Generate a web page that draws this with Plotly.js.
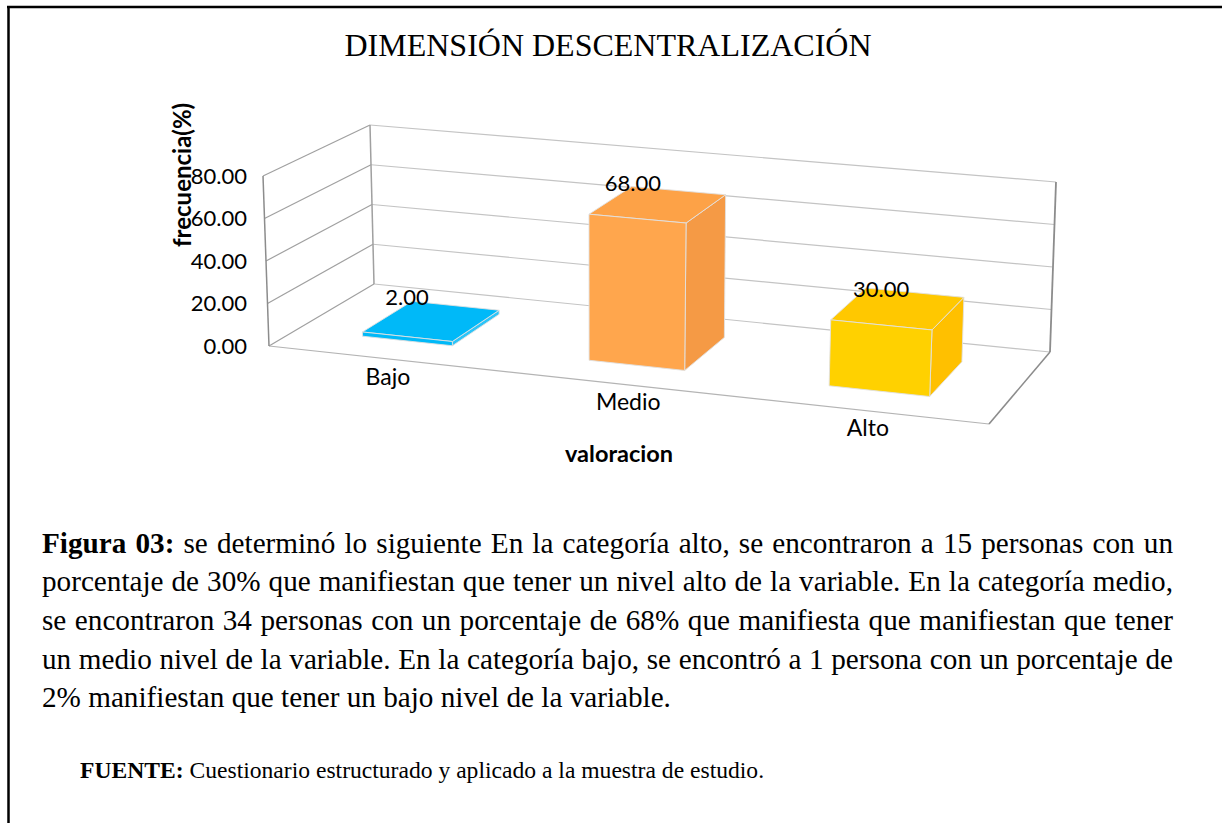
<!DOCTYPE html>
<html><head><meta charset="utf-8">
<script src="https://cdn.plot.ly/plotly-3.0.1.min.js"></script>
<style>html,body{margin:0;padding:0;background:#fff}#c{width:1222px;height:823px}</style></head>
<body><div id="c"></div>
<script>
const categories=['Bajo','Medio','Alto'];
const values=[2,68,30];
const yTicks=[0,20,40,60,80];
const yTickLabels=['0.00','20.00','40.00','60.00','80.00'];
const yMax=80;
const chartTitle='DIMENSIÓN DESCENTRALIZACIÓN';
const xTitle='valoracion';
const yTitle='frecuencia(%)';
const faceColors=[['#00B9F8','#00B9F8','#2CC4F8'],['#FFA64D','#FDA247','#F59A45'],['#FFD100','#FFC800','#FFC000']];
const captionLines=[
 '<b>Figura 03:</b> se determinó lo siguiente En la categoría alto, se encontraron a 15 personas con un',
 'porcentaje de 30% que manifiestan que tener un nivel alto de la variable. En la categoría medio,',
 'se encontraron 34 personas con un porcentaje de 68% que manifiesta que manifiestan que tener',
 'un medio nivel de la variable. En la categoría bajo, se encontró a 1 persona con un porcentaje de',
 '2% manifiestan que tener un bajo nivel de la variable.'];
const source='<b>FUENTE:</b> Cuestionario estructurado y aplicado a la muestra de estudio.';

// view box of the pseudo-3D chart (screen placement of the 8 corners)
const box={A:[269,346],B:[374,284],C:[1050,352],D:[989,424],At:[263,176],Bt:[370,125],Ct:[1056,182],Dt:[997,242]};
const barU=[[.092,.219],[.412,.547],[.751,.893]], barV=[.27,.76];
const mix=(a,b,t)=>[a[0]+(b[0]-a[0])*t,a[1]+(b[1]-a[1])*t];
function P(u,v,w){
  const f=mix(mix(box.A,box.B,v),mix(box.D,box.C,v),u);
  const t=mix(mix(box.At,box.Bt,v),mix(box.Dt,box.Ct,v),u);
  return mix(f,t,w);
}
const traces=[];
function line(pts,color,width){traces.push({type:'scatter',mode:'lines',x:pts.map(p=>p[0]),y:pts.map(p=>p[1]),
  line:{color,width},hoverinfo:'skip',showlegend:false});}
function face(pts,color,edge){traces.push({type:'scatter',mode:'lines',fill:'toself',fillcolor:color,
  x:pts.concat([pts[0]]).map(p=>p[0]),y:pts.concat([pts[0]]).map(p=>p[1]),
  line:{color:edge,width:1},hoverinfo:'skip',showlegend:false});}
const grid='#c4c4c4', edge='#a0a0a0', dark='#8c8c8c';
yTicks.forEach(t=>{const w=t/yMax;
  if(t>0){line([P(0,0,w),P(0,1,w)],edge,1.2);}
  line([P(0,1,w),P(1,1,w)],grid,1.2);
});
line([P(0,0,0),P(0,1,0)],edge,1.2);
line([P(0,0,0),P(1,0,0)],'#b4b4b4',1.2);
line([P(1,0,0),P(1,1,0)],dark,1.6);
line([P(0,0,0),P(0,0,1)],dark,1.5);
line([P(0,1,0),P(0,1,1)],edge,1.5);
line([P(1,1,0),P(1,1,1)],dark,1.8);
categories.forEach((c,i)=>{
  const [u0,u1]=barU[i],[v0,v1]=barV,w=values[i]/yMax,col=faceColors[i],e='rgba(225,225,225,0.9)';
  face([P(u1,v0,0),P(u1,v1,0),P(u1,v1,w),P(u1,v0,w)],col[2],e);
  face([P(u0,v0,w),P(u1,v0,w),P(u1,v1,w),P(u0,v1,w)],col[1],e);
  face([P(u0,v0,0),P(u1,v0,0),P(u1,v0,w),P(u0,v0,w)],col[0],e);
});
const font={family:'Lato, sans-serif',size:22,color:'#000'};
const labelOff=[[-23,-23],[-24,-19.5],[-16,-18]];
const catOff=[[7,21],[14,21],[7,20]];
const uc=barU.map(b=>(b[0]+b[1])/2);
traces.push({type:'scatter',mode:'text',x:uc.map((u,i)=>P(u,.5,values[i]/yMax)[0]+labelOff[i][0]),
  y:uc.map((u,i)=>P(u,.5,values[i]/yMax)[1]+labelOff[i][1]),text:values.map(v=>v.toFixed(2)),
  textposition:'middle center',textfont:font,hoverinfo:'skip',showlegend:false});
traces.push({type:'scatter',mode:'text',x:uc.map((u,i)=>P(u,0,0)[0]+catOff[i][0]),
  y:uc.map((u,i)=>P(u,0,0)[1]+catOff[i][1]),text:categories,
  textposition:'middle center',textfont:{family:'Lato, sans-serif',size:23,color:'#000'},hoverinfo:'skip',showlegend:false});
// tick labels via a real value axis
traces.push({type:'scatter',mode:'lines',x:[0,0],y:[0,yMax],xaxis:'x',yaxis:'y2',line:{width:0},hoverinfo:'skip',showlegend:false});

const serif='"Liberation Serif", serif';
const ann=[];
const lineY=[543,581,620,659,697];
captionLines.forEach((t,i)=>ann.push({xref:'paper',yref:'paper',x:40/1222,y:1-lineY[i]/823,xanchor:'left',yanchor:'middle',
  align:'left',showarrow:false,text:t,font:{family:serif,size:29.2,color:'#000'},captureevents:false}));
ann.push({xref:'paper',yref:'paper',x:78/1222,y:1-770/823,xanchor:'left',yanchor:'middle',showarrow:false,text:source,font:{family:serif,size:23.6,color:'#000'}});
ann.push({xref:'paper',yref:'paper',x:619/1222,y:1-453/823,xanchor:'center',yanchor:'middle',showarrow:false,text:'<b>'+xTitle+'</b>',font:{family:'Lato, sans-serif',size:23.5,color:'#000'}});
ann.push({xref:'paper',yref:'paper',x:181/1222,y:1-175/823,xanchor:'center',yanchor:'middle',showarrow:false,textangle:-90,text:'<b>'+yTitle+'</b>',font:{family:'Lato, sans-serif',size:24,color:'#000'}});

const layout={width:1222,height:823,margin:{l:0,r:0,t:0,b:0},paper_bgcolor:'#fff',plot_bgcolor:'rgba(0,0,0,0)',showlegend:false,
  title:{text:chartTitle,x:608/1222,xanchor:'center',y:1-45/823,yanchor:'middle',font:{family:serif,size:32,color:'#000'}},
  xaxis:{range:[0,1222],visible:false,fixedrange:true},
  yaxis:{range:[823,0],visible:false,fixedrange:true},
  yaxis2:{anchor:'free',position:247/1222,side:'left',domain:[1-346/823,1-176/823],range:[0,yMax],tickvals:yTicks,ticktext:yTickLabels,
    showgrid:false,zeroline:false,showline:false,ticks:'',tickfont:font,fixedrange:true},
  annotations:ann,
  shapes:[{type:'line',xref:'paper',yref:'paper',x0:8.5/1222,x1:8.5/1222,y0:0,y1:1-7/823,line:{color:'#000',width:2.5}},
          {type:'line',xref:'paper',yref:'paper',x0:7/1222,x1:1,y0:1-7/823,y1:1-7/823,line:{color:'#000',width:2.5}}]
};
Plotly.newPlot('c',traces,layout,{displayModeBar:false,staticPlot:true}).then(()=>{
  // justify caption lines to the text block width
  document.querySelectorAll('.annotation-text').forEach(t=>{
    const s=t.textContent; const i=captionLines.findIndex(l=>l.replace(/<\/?b>/g,'')===s);
    if(i<0||i===captionLines.length-1) return;
    const gaps=s.split(' ').length-1, len=t.getComputedTextLength();
    t.style.wordSpacing=((1173-42-len)/gaps)+'px';
  });
});
</script></body></html>
